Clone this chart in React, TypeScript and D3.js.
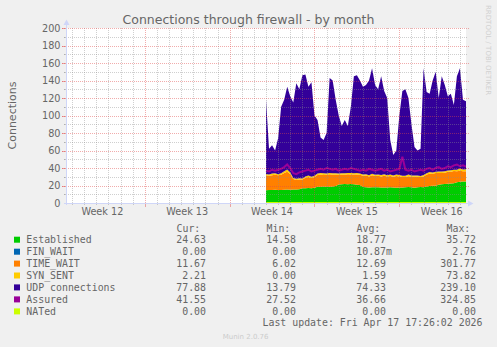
import React from "react";
import * as d3 from "d3";

// ---- data ----
const title = "Connections through firewall - by month";
const yAxisTitle = "Connections";
const weekLabels = ["Week 12", "Week 13", "Week 14", "Week 15", "Week 16"];
const weekLabelDays = [3, 10, 17, 24, 31];
const weekBoundaryDays = [6.5, 13.5, 20.5, 27.5];
const yTickValues = [0, 20, 40, 60, 80, 100, 120, 140, 160, 180, 200];
const totalDays = 33;
const dataStartDay = 16.5;
const sampleStepDays = 0.25;

const established = [14.6, 14.8, 15.0, 15.2, 15.0, 14.9, 15.1, 15.3, 15.2, 15.4, 15.5, 15.6, 16.8, 17.0, 17.2, 17.0, 17.4, 18.5, 18.6, 18.8, 18.5, 18.7, 18.9, 19.5, 21.2, 21.4, 21.6, 21.5, 21.8, 21.4, 21.0, 20.6, 18.2, 18.0, 17.8, 17.9, 18.1, 18.0, 17.8, 17.6, 17.8, 18.0, 17.7, 17.5, 17.6, 17.8, 18.0, 18.3, 18.1, 17.5, 17.9, 18.2, 18.0, 19.0, 19.4, 19.6, 19.8, 21.0, 21.4, 21.8, 22.0, 22.4, 22.6, 23.8, 24.2, 24.5, 24.6];
const finWait = [0, 0, 0, 0, 0, 0, 0, 0, 0, 0, 0, 0, 0, 0, 0, 0, 0, 0, 0, 0, 0, 0, 0, 0, 0, 0, 0, 0, 0, 0, 0, 0, 0, 0, 0, 0, 0, 0, 0, 0, 0, 0, 0, 0, 0, 0, 0, 0, 0, 0, 0, 0, 0, 0, 0, 0, 0, 0, 0, 0, 0, 0, 0, 0, 0, 0, 0];
const timeWait = [17.0, 16.4, 16.8, 17.2, 16.6, 17.4, 19.2, 20.5, 18.0, 12.0, 10.8, 11.2, 10.0, 11.8, 12.4, 11.6, 12.2, 13.6, 14.0, 13.2, 13.8, 14.2, 13.4, 12.8, 11.2, 11.0, 10.6, 11.4, 10.8, 11.2, 11.6, 11.8, 13.0, 13.4, 12.6, 13.8, 12.8, 13.2, 12.6, 13.6, 12.4, 13.0, 12.2, 13.4, 12.8, 12.0, 11.6, 12.4, 11.8, 12.6, 12.0, 11.4, 12.2, 13.6, 14.0, 13.8, 14.4, 13.2, 13.0, 12.8, 13.6, 13.2, 14.0, 12.4, 12.8, 11.8, 11.7];
const synSent = [1.6, 1.4, 1.8, 1.5, 1.3, 1.7, 2.0, 2.4, 1.6, 1.2, 1.4, 1.5, 1.3, 1.6, 1.8, 1.4, 1.5, 1.7, 1.6, 1.9, 1.4, 1.5, 1.8, 1.6, 1.3, 1.5, 1.7, 1.4, 1.6, 1.5, 1.8, 1.3, 1.5, 1.6, 1.4, 1.7, 1.5, 1.3, 1.6, 1.8, 1.4, 1.5, 1.6, 1.7, 1.5, 1.4, 1.6, 1.8, 1.5, 1.3, 1.6, 1.4, 1.7, 1.5, 1.9, 1.6, 1.4, 1.8, 1.5, 1.7, 1.6, 1.9, 1.5, 1.8, 2.4, 2.0, 2.2];
const udpConnections = [84.8, 29.4, 32.4, 26.1, 41.1, 76.0, 81.7, 94.8, 87.2, 86.4, 109.3, 101.7, 117.9, 116.6, 101.6, 108.0, 68.9, 61.2, 40.8, 38.1, 46.3, 108.6, 105.9, 84.1, 66.3, 54.1, 61.1, 53.7, 75.8, 110.9, 111.6, 106.3, 100.3, 102.0, 108.2, 120.6, 102.6, 97.5, 113.0, 95.0, 88.4, 39.5, 23.5, 27.4, 68.1, 96.8, 98.8, 87.5, 58.6, 32.6, 28.5, 31.0, 122.1, 92.9, 89.7, 105.0, 114.4, 84.0, 109.1, 98.7, 84.8, 87.5, 73.9, 107.0, 114.6, 79.7, 77.9];
const assured = [37, 36, 38, 37, 38, 39, 41, 44, 40, 34, 33, 35, 36, 37, 38, 36, 37, 38, 39, 38, 40, 39, 38, 39, 37, 38, 39, 38, 40, 39, 38, 37, 38, 37, 39, 38, 37, 38, 39, 37, 38, 36, 37, 38, 39, 53, 38, 37, 38, 36, 37, 38, 37, 39, 40, 38, 40, 41, 39, 40, 42, 41, 43, 44, 42, 43, 41.5];
const nated = [0, 0, 0, 0, 0, 0, 0, 0, 0, 0, 0, 0, 0, 0, 0, 0, 0, 0, 0, 0, 0, 0, 0, 0, 0, 0, 0, 0, 0, 0, 0, 0, 0, 0, 0, 0, 0, 0, 0, 0, 0, 0, 0, 0, 0, 0, 0, 0, 0, 0, 0, 0, 0, 0, 0, 0, 0, 0, 0, 0, 0, 0, 0, 0, 0, 0, 0];

const legendNames = ["Established", "FIN_WAIT", "TIME_WAIT", "SYN_SENT", "UDP connections", "Assured", "NATed"];
const legendColors = ["#00CC00", "#0066B3", "#FF8000", "#FFCC00", "#330099", "#990099", "#CCFF00"];
const curValues = ["24.63", "0.00", "11.67", "2.21", "77.88", "41.55", "0.00"];
const minValues = ["14.58", "0.00", "6.02", "0.00", "13.79", "27.52", "0.00"];
const avgValues = ["18.77", "10.87m", "12.69", "1.59", "74.33", "36.66", "0.00"];
const maxValues = ["35.72", "2.76", "301.77", "73.82", "239.10", "324.85", "0.00"];
const columnHeaders = ["Cur:", "Min:", "Avg:", "Max:"];
const lastUpdate = "Last update: Fri Apr 17 17:26:02 2026";
const watermark = "RRDTOOL / TOBI OETIKER";
const version = "Munin 2.0.76";

// ---- layout ----
const W = 497, H = 347;
const X0 = 66, X1 = 466, Y0 = 203, Y1 = 28;
const FONT = "DejaVu Sans, sans-serif";
const MONO = "DejaVu Sans Mono, monospace";
const TEXT = "#666666";
const AXIS = "#CFD6F8";
const GRID = "rgba(140,140,140,0.42)";
const MGRID = "rgba(225,70,70,0.45)";

export default function App() {
  const x = d3.scaleLinear().domain([0, totalDays]).range([X0, X1]);
  const y = d3.scaleLinear().domain([0, 200]).range([Y0, Y1]);

  const rows = established.map((v, i) => ({
    day: dataStartDay + i * sampleStepDays,
    est: v,
    fin: finWait[i],
    tw: timeWait[i],
    syn: synSent[i],
    udp: udpConnections[i],
    assured: assured[i],
    nated: nated[i],
  }));
  const keys = ["est", "fin", "tw", "syn", "udp"];
  const stacked = d3.stack<any>().keys(keys)(rows);
  const area = d3
    .area<any>()
    .x((d) => x(d.data.day))
    .y0((d) => y(d[0]))
    .y1((d) => y(d[1]))
    .curve(d3.curveLinear);
  const line = (k: string) =>
    d3
      .line<any>()
      .x((d) => x(d.day))
      .y((d) => y(d[k]))
      .curve(d3.curveLinear)(rows) || "";

  const px = (v: number) => Math.round(v) + 0.5;

  const minorY = d3.range(10, 200, 20);
  const majorY = d3.range(20, 201, 20);
  const dayLines = d3.range(0.5, totalDays, 1).filter((d) => !weekBoundaryDays.includes(d));

  const legendBaselines = [243.3, 255.3, 267.2, 279.1, 291, 303, 315];
  const headerBaseline = 231.5;
  const colRights = [206, 296, 386, 476];
  const colValues = [curValues, minValues, avgValues, maxValues];

  return (
    <svg width={W} height={H} style={{ position: "absolute", left: 0, top: 0, display: "block" }}>
      <rect x={0} y={0} width={W} height={H} fill="#F0F0F0" />
      <rect x={X0} y={Y1} width={X1 - X0} height={Y0 - Y1} fill="#FFFFFF" />
      <defs>
        <clipPath id="plotclip">
          <rect x={X0} y={Y1} width={X1 - X0} height={Y0 - Y1} />
        </clipPath>
      </defs>

      {/* data */}
      <g clipPath="url(#plotclip)">
        {stacked.map((s, i) => (
          <path key={keys[i]} d={area(s as any) || ""} fill={legendColors[i]} stroke="none" />
        ))}
        <path d={line("assured")} fill="none" stroke={legendColors[5]} strokeWidth={2} />
        <path d={line("nated")} fill="none" stroke={legendColors[6]} strokeWidth={2} />
      </g>

      {/* grid on top */}
      <g shapeRendering="crispEdges">
        {minorY.map((v) => (
          <line key={"my" + v} x1={X0 - 2} x2={X1 + 2} y1={px(y(v))} y2={px(y(v))} stroke={GRID} strokeDasharray="1 1" />
        ))}
        {dayLines.map((d) => (
          <line key={"dx" + d} x1={px(x(d))} x2={px(x(d))} y1={Y1} y2={Y0 + 2} stroke={GRID} strokeDasharray="1 1" />
        ))}
        {majorY.map((v) => (
          <line key={"My" + v} x1={X0 - 4} x2={X1 + 4} y1={px(y(v))} y2={px(y(v))} stroke={MGRID} strokeDasharray="1 1" />
        ))}
        {majorY.map((v) => (
          <line key={"Mt" + v} x1={X0 - 4} x2={X0} y1={px(y(v))} y2={px(y(v))} stroke={MGRID} />
        ))}
        {minorY.map((v) => (
          <line key={"mt" + v} x1={X0 - 2} x2={X0} y1={px(y(v))} y2={px(y(v))} stroke={GRID} />
        ))}
        {weekBoundaryDays.map((d) => (
          <line key={"wx" + d} x1={px(x(d))} x2={px(x(d))} y1={Y1} y2={Y0} stroke={MGRID} strokeDasharray="1 1" />
        ))}
        {weekBoundaryDays.map((d) => (
          <line key={"wt" + d} x1={px(x(d))} x2={px(x(d))} y1={Y0} y2={Y0 + 4} stroke={MGRID} />
        ))}
      </g>

      {/* axes */}
      <g shapeRendering="crispEdges">
        <line x1={X0 - 2} x2={X1 + 4} y1={Y0 + 0.5} y2={Y0 + 0.5} stroke={AXIS} />
        <line x1={X0 + 0.5} x2={X0 + 0.5} y1={Y0 + 2} y2={Y1 - 4} stroke={AXIS} />
      </g>
      <path d={`M${X1 + 2},${Y0 - 2.5} L${X1 + 7.5},${Y0 + 0.5} L${X1 + 2},${Y0 + 3.5} Z`} fill={AXIS} />
      <path d={`M${X0 - 2.5},${Y1 - 3} L${X0 + 0.5},${Y1 - 8.5} L${X0 + 3.5},${Y1 - 3} Z`} fill={AXIS} />

      {/* tick labels */}
      {yTickValues.map((v) => (
        <text key={"yl" + v} x={60.5} y={y(v) + 3.6} textAnchor="end" fontFamily={FONT} fontSize={9.7} fill={TEXT}>
          {v}
        </text>
      ))}
      {weekLabels.map((l, i) => (
        <text key={l} x={x(weekLabelDays[i])} y={215} textAnchor="middle" fontFamily={FONT} fontSize={9.7} fill={TEXT}>
          {l}
        </text>
      ))}

      {/* titles */}
      <text x={248.5} y={24} textAnchor="middle" fontFamily={FONT} fontSize={12.5} fill={TEXT}>
        {title}
      </text>
      <text transform={`translate(15.5,${(Y0 + Y1) / 2}) rotate(-90)`} textAnchor="middle" fontFamily={FONT} fontSize={11} fill={TEXT}>
        {yAxisTitle}
      </text>
      <text transform="translate(486,5) rotate(90)" fontFamily={FONT} fontSize={7} fill="#D0D0D0">
        {watermark}
      </text>

      {/* legend */}
      {columnHeaders.map((h, c) => (
        <text key={h} x={colRights[c] - 29.5} y={headerBaseline} fontFamily={MONO} fontSize={9.9} fill={TEXT}>
          {h}
        </text>
      ))}
      {legendNames.map((n, i) => (
        <g key={n}>
          <rect x={14} y={legendBaselines[i] - 6.6} width={6} height={6} fill={legendColors[i]} />
          <text x={26.3} y={legendBaselines[i]} fontFamily={MONO} fontSize={9.9} fill={TEXT} style={{ whiteSpace: "pre" }}>
            {n}
          </text>
          {colValues.map((vals, c) => {
            const s = vals[i];
            const m = s.endsWith("m");
            const num = m ? s.slice(0, -1) : s;
            return (
              <g key={c}>
                <text x={colRights[c]} y={legendBaselines[i]} textAnchor="end" fontFamily={MONO} fontSize={9.9} fill={TEXT}>
                  {num}
                </text>
                {m && (
                  <text x={colRights[c]} y={legendBaselines[i]} fontFamily={MONO} fontSize={9.9} fill={TEXT}>
                    m
                  </text>
                )}
              </g>
            );
          })}
        </g>
      ))}
      <text x={482.5} y={326} textAnchor="end" fontFamily={MONO} fontSize={9.9} fill={TEXT}>
        {lastUpdate}
      </text>
      <text x={222.7} y={339} fontFamily={FONT} fontSize={7} fill="#CCCCCC">
        {version}
      </text>
    </svg>
  );
}
